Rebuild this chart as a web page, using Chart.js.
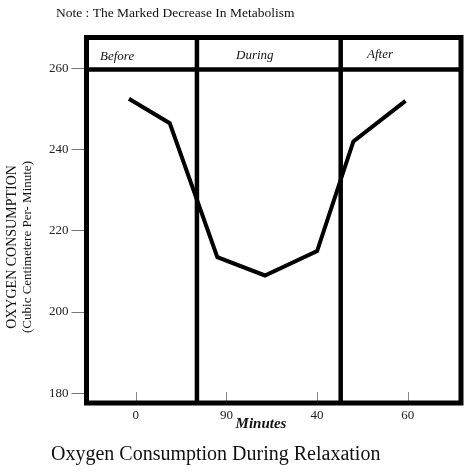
<!DOCTYPE html>
<html>
<head>
<meta charset="utf-8">
<script src="https://cdn.jsdelivr.net/npm/chart.js@4.4.1/dist/chart.umd.min.js"></script>
<style>
  html, body { margin: 0; padding: 0; background: #fff; }
  #wrap { position: relative; width: 467px; height: 475px; }
</style>
</head>
<body>
<div id="wrap"><canvas id="myChart"></canvas></div>
<script>
// values
const minutes = [-1.5, 7.5, 18, 28.5, 40, 48, 59.5];
const oxygen = [252.5, 246.5, 213.5, 209, 215, 242, 252];
const xTickValues = [0, 20, 40, 60];
const xTickLabels = ['0', '90', '40', '60'];
const yTickValues = [180, 200, 220, 240, 260];
const phaseNames = ['Before', 'During', 'After'];
const phaseBreaks = [13.5, 45.2];
const headerLevel = 259.7;

const serif = '"Liberation Serif", "Times New Roman", serif';

// frame, phase lines, little inner ticks and the loose texts
const framePlugin = {
  id: 'frame',
  afterDatasetsDraw(chart) {
    const ctx = chart.ctx;
    const a = chart.chartArea;
    const x = chart.scales.x;
    const y = chart.scales.y;
    ctx.save();

    ctx.strokeStyle = '#888';
    ctx.lineWidth = 1;
    xTickValues.forEach(v => {
      const px = Math.round(x.getPixelForValue(v)) + 0.5;
      ctx.beginPath();
      ctx.moveTo(px, a.bottom - 2);
      ctx.lineTo(px, a.bottom - 11);
      ctx.stroke();
    });

    ctx.strokeStyle = '#000';
    ctx.lineWidth = 4.5;
    const hy = y.getPixelForValue(headerLevel);
    ctx.beginPath();
    ctx.moveTo(a.left, hy);
    ctx.lineTo(a.right, hy);
    phaseBreaks.forEach(v => {
      const px = x.getPixelForValue(v);
      ctx.moveTo(px, a.top);
      ctx.lineTo(px, a.bottom);
    });
    ctx.stroke();

    ctx.lineWidth = 5;
    ctx.strokeRect(a.left, a.top, a.right - a.left, a.bottom - a.top);

    ctx.fillStyle = '#111';
    ctx.textBaseline = 'alphabetic';
    ctx.font = 'italic 13px ' + serif;
    ctx.textAlign = 'left';
    ctx.fillText(phaseNames[0], 100, 60);
    ctx.fillText(phaseNames[1], 236, 58.5);
    ctx.fillText(phaseNames[2], 367, 58);

    ctx.font = '13.5px ' + serif;
    ctx.fillText('Note : The Marked Decrease In Metabolism', 56, 17);

    ctx.font = '20px ' + serif;
    ctx.fillText('Oxygen Consumption During Relaxation', 51, 460);

    ctx.font = 'italic bold 15px ' + serif;
    ctx.textAlign = 'center';
    ctx.fillText('Minutes', 261, 428);

    ctx.save();
    ctx.translate(12, 247);
    ctx.rotate(-Math.PI / 2);
    ctx.textBaseline = 'middle';
    ctx.font = '14px ' + serif;
    ctx.fillText('OXYGEN CONSUMPTION', 0, 0);
    ctx.font = '13px ' + serif;
    ctx.fillText('(Cubic Centimetere Per- Minute)', 0, 16);
    ctx.restore();

    ctx.restore();
  }
};

const ctx = document.getElementById('myChart');

var chart = new Chart(ctx, {
  type: 'line',
  data: {
    datasets: [{
      label: 'Oxygen consumption',
      data: minutes.map((m, i) => ({ x: m, y: oxygen[i] })),
      borderColor: '#000',
      borderWidth: 4,
      pointRadius: 0,
      tension: 0,
      fill: false
    }]
  },
  options: {
    responsive: true,
    maintainAspectRatio: false,
    animation: false,
    layout: {
      padding: { top: 37.5, right: 6, left: 0, bottom: 0 }
    },
    plugins: {
      legend: false,
      title: false,
      tooltip: { enabled: false }
    },
    scales: {
      x: {
        type: 'linear',
        min: -10.85,
        max: 71.73,
        afterBuildTicks: s => { s.ticks = xTickValues.map(v => ({ value: v })); },
        afterFit: s => { s.height = 72; },
        grid: { display: false, drawTicks: false },
        border: { display: false },
        ticks: {
          padding: 5,
          color: '#222',
          font: { family: serif, size: 13 },
          callback: (v, i) => xTickLabels[i]
        }
      },
      y: {
        min: 177.6,
        max: 267.6,
        afterBuildTicks: s => { s.ticks = yTickValues.map(v => ({ value: v })); },
        afterFit: s => { s.width = 86.5; },
        grid: {
          drawOnChartArea: false,
          drawTicks: true,
          tickLength: 15,
          tickColor: '#777',
          tickWidth: 1
        },
        border: { display: false },
        ticks: {
          padding: 3,
          color: '#222',
          font: { family: serif, size: 13 }
        }
      }
    }
  },
  plugins: [framePlugin]
});
</script>
</body>
</html>
